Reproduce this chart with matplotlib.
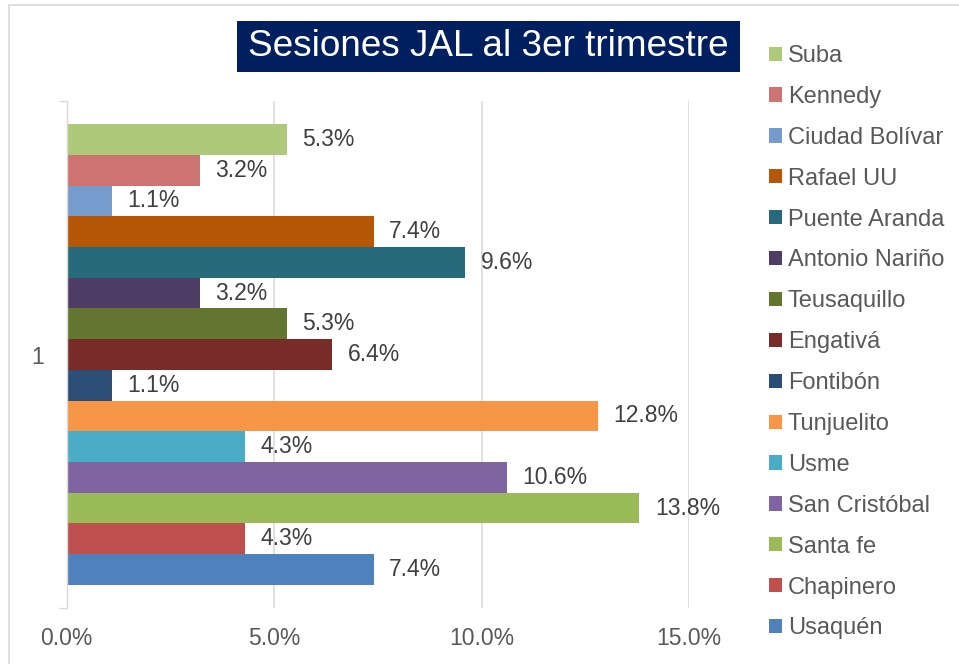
import matplotlib
matplotlib.use("Agg")
import matplotlib.pyplot as plt
from matplotlib.patches import Patch, Rectangle
from matplotlib.ticker import FuncFormatter

plt.rcParams["font.family"] = ["Liberation Sans", "DejaVu Sans"]

localidades = [
    "Suba", "Kennedy", "Ciudad Bolívar", "Rafael UU", "Puente Aranda",
    "Antonio Nariño", "Teusaquillo", "Engativá", "Fontibón", "Tunjuelito",
    "Usme", "San Cristóbal", "Santa fe", "Chapinero", "Usaquén",
]
porcentajes = [5.3, 3.2, 1.1, 7.4, 9.6, 3.2, 5.3, 6.4, 1.1, 12.8, 4.3, 10.6, 13.8, 4.3, 7.4]
colores = [
    "#AFC97A", "#CD7371", "#769CCD", "#B65708", "#276A7C",
    "#4F3C64", "#62762F", "#772C2A", "#2C4D75", "#F79646",
    "#4BACC6", "#8064A2", "#9BBB59", "#C0504D", "#4F81BD",
]
xticks = [0, 5, 10, 15]

fig = plt.figure(figsize=(9.59, 6.64), dpi=100)
ax = fig.add_axes([66.7 / 959, 1 - 608 / 664, 622.6 / 959, 507 / 664])

# one category, bars stacked top to bottom inside the group
group = 0.909
h = group / len(localidades)
for i, (name, val, col) in enumerate(zip(localidades, porcentajes, colores)):
    y = group / 2 - (i + 0.5) * h
    ax.barh(y, val, height=h, color=col, label=name)
    ax.annotate(f"{val:.1f}%", (val, y), xytext=(11, 0), textcoords="offset points",
                ha="left", va="center", fontsize=16.5, color="#404040")

ax.set_xlim(0, 15)
ax.set_ylim(-0.5, 0.5)
ax.set_xticks(xticks)
ax.xaxis.set_major_formatter(FuncFormatter(lambda v, _: f"{v:.1f}%"))
ax.tick_params(axis="x", length=0, pad=14, labelsize=16.5, labelcolor="#595959")
ax.set_yticks([0])
ax.set_yticklabels(["1"])
ax.set_yticks([-0.5, 0.5], minor=True)
ax.tick_params(axis="y", which="major", length=0, pad=16, labelsize=16.5, labelcolor="#595959")
ax.tick_params(axis="y", which="minor", length=6, width=1.0, color="#D9D9D9")
ax.grid(axis="x", color="#D9D9D9", linewidth=1.1)
ax.set_axisbelow(True)
for side in ["top", "right", "bottom"]:
    ax.spines[side].set_visible(False)
ax.spines["left"].set_color("#D9D9D9")
ax.spines["left"].set_linewidth(1.0)

# title box
fig.patches.append(Rectangle((237 / 959, 1 - 72 / 664), 503 / 959, 51 / 664,
                             transform=fig.transFigure, facecolor="#001F5F", edgecolor="none"))
fig.text(488.5 / 959, 1 - 47 / 664, "Sesiones JAL al 3er trimestre", ha="center", va="center",
         fontsize=26.6, color="white")

# chart frame
fig.patches.append(Rectangle((8.5 / 959, -0.1), 1.2, 1.1 - 5.5 / 664, transform=fig.transFigure,
                             facecolor="none", edgecolor="#D9D9D9", linewidth=1.2))

handles = [Patch(facecolor=c, edgecolor="none") for c in colores]
fig.legend(handles, localidades, loc="upper left", bbox_to_anchor=(769 / 959, 1 - 45 / 664),
           frameon=False, fontsize=17, labelcolor="#595959", handlelength=0.55,
           handleheight=0.55, handletextpad=0.25, labelspacing=0.80, borderpad=0,
           borderaxespad=0)

fig.savefig("out.png", dpi=100)
